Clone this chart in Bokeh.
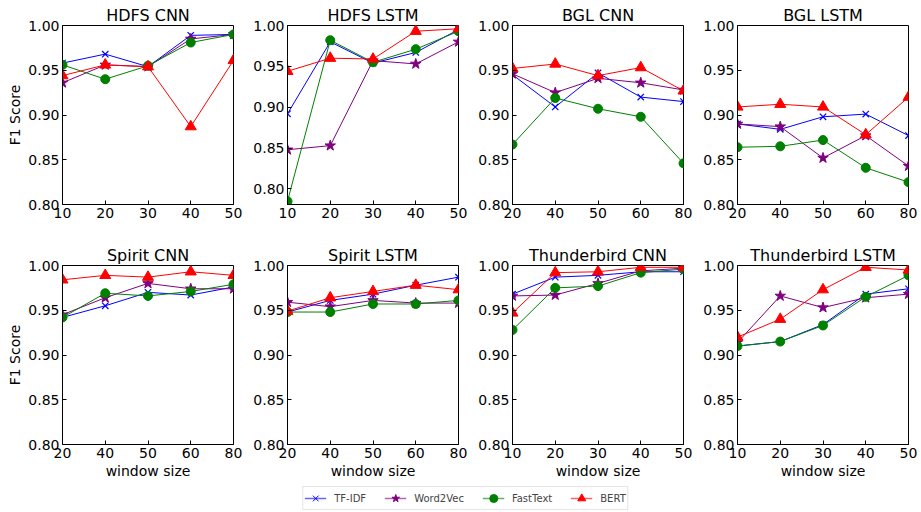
from bokeh.plotting import figure
from bokeh.layouts import column, row
from bokeh.models import Range1d, FixedTicker, Legend, LegendItem, NumeralTickFormatter
from bokeh.embed import file_html
from bokeh.resources import INLINE

FONT = "DejaVu Sans"

methods = ["TF-IDF", "Word2Vec", "FastText", "BERT"]
colors = ["#0000ff", "#800080", "#008000", "#ff0000"]
markers = ["x", "star", "circle", "triangle"]
msizes = [9, 11, 9, 11]

y_ticks = [0.80, 0.85, 0.90, 0.95, 1.00]

# ---- data ----
ws_10_50 = ["10", "20", "30", "40", "50"]
ws_20_80 = ["20", "40", "50", "60", "80"]

hdfs_cnn_tfidf = [0.958, 0.968, 0.954, 0.989, 0.990]
hdfs_cnn_w2v = [0.936, 0.956, 0.954, 0.985, 0.990]
hdfs_cnn_ft = [0.956, 0.940, 0.955, 0.981, 0.990]
hdfs_cnn_bert = [0.944, 0.956, 0.954, 0.887, 0.961]

hdfs_lstm_tfidf = [0.892, 0.980, 0.954, 0.967, 0.995]
hdfs_lstm_w2v = [0.848, 0.853, 0.957, 0.953, 0.980]
hdfs_lstm_ft = [0.785, 0.982, 0.955, 0.971, 0.993]
hdfs_lstm_bert = [0.944, 0.960, 0.959, 0.993, 0.996]

bgl_cnn_tfidf = [0.945, 0.909, 0.947, 0.920, 0.915]
bgl_cnn_w2v = [0.946, 0.925, 0.941, 0.936, 0.928]
bgl_cnn_ft = [0.867, 0.919, 0.907, 0.898, 0.846]
bgl_cnn_bert = [0.952, 0.957, 0.944, 0.953, 0.927]

bgl_lstm_tfidf = [0.890, 0.884, 0.898, 0.901, 0.877]
bgl_lstm_w2v = [0.890, 0.887, 0.852, 0.877, 0.843]
bgl_lstm_ft = [0.864, 0.865, 0.872, 0.841, 0.825]
bgl_lstm_bert = [0.909, 0.912, 0.909, 0.878, 0.920]

spirit_cnn_tfidf = [0.942, 0.955, 0.970, 0.967, 0.976]
spirit_cnn_w2v = [0.945, 0.964, 0.980, 0.974, 0.974]
spirit_cnn_ft = [0.942, 0.969, 0.966, 0.971, 0.979]
spirit_cnn_bert = [0.984, 0.989, 0.987, 0.993, 0.989]

spirit_lstm_tfidf = [0.948, 0.961, 0.968, 0.978, 0.987]
spirit_lstm_w2v = [0.959, 0.954, 0.961, 0.958, 0.958]
spirit_lstm_ft = [0.948, 0.948, 0.957, 0.957, 0.961]
spirit_lstm_bert = [0.949, 0.964, 0.971, 0.978, 0.973]

tb_cnn_tfidf = [0.968, 0.987, 0.989, 0.993, 0.993]
tb_cnn_w2v = [0.966, 0.967, 0.980, 0.994, 0.997]
tb_cnn_ft = [0.928, 0.975, 0.977, 0.992, 0.996]
tb_cnn_bert = [0.947, 0.992, 0.993, 0.998, 0.998]

tb_lstm_tfidf = [0.910, 0.915, 0.934, 0.968, 0.974]
tb_lstm_w2v = [0.914, 0.966, 0.953, 0.964, 0.968]
tb_lstm_ft = [0.910, 0.915, 0.933, 0.965, 0.989]
tb_lstm_bert = [0.920, 0.940, 0.973, 0.998, 0.995]

panels = [
    ("HDFS CNN", ws_10_50, [hdfs_cnn_tfidf, hdfs_cnn_w2v, hdfs_cnn_ft, hdfs_cnn_bert], 0.80),
    ("HDFS LSTM", ws_10_50, [hdfs_lstm_tfidf, hdfs_lstm_w2v, hdfs_lstm_ft, hdfs_lstm_bert], 0.781),
    ("BGL CNN", ws_20_80, [bgl_cnn_tfidf, bgl_cnn_w2v, bgl_cnn_ft, bgl_cnn_bert], 0.80),
    ("BGL LSTM", ws_20_80, [bgl_lstm_tfidf, bgl_lstm_w2v, bgl_lstm_ft, bgl_lstm_bert], 0.80),
    ("Spirit CNN", ws_20_80, [spirit_cnn_tfidf, spirit_cnn_w2v, spirit_cnn_ft, spirit_cnn_bert], 0.80),
    ("Spirit LSTM", ws_20_80, [spirit_lstm_tfidf, spirit_lstm_w2v, spirit_lstm_ft, spirit_lstm_bert], 0.80),
    ("Thunderbird CNN", ws_10_50, [tb_cnn_tfidf, tb_cnn_w2v, tb_cnn_ft, tb_cnn_bert], 0.80),
    ("Thunderbird LSTM", ws_10_50, [tb_lstm_tfidf, tb_lstm_w2v, tb_lstm_ft, tb_lstm_bert], 0.80),
]

FRAME_W = 171


def make_panel(idx, title, ws, series, ylo):
    r, c = divmod(idx, 4)
    left = 62 if c == 0 else 40
    right = 12 if c == 3 else 14
    top = 25 if r == 0 else 22
    bottom = 38
    frame_h = 179 if r == 0 else 180
    xs = list(range(len(ws)))
    p = figure(width=left + FRAME_W + right, height=top + frame_h + bottom,
               x_range=Range1d(0, len(ws) - 1), y_range=Range1d(ylo, 1.0),
               output_backend="svg", toolbar_location=None,
               min_border_left=left, min_border_right=right,
               min_border_top=top, min_border_bottom=bottom)
    p.title.text = title
    p.title.align = "center"
    p.title.text_font = FONT
    p.title.text_font_size = "16px"
    p.title.text_font_style = "normal"
    p.title.text_color = "black"
    p.title.standoff = 2
    p.xgrid.visible = False
    p.ygrid.visible = False
    p.outline_line_color = "black"
    p.outline_line_width = 1
    p.outline_line_alpha = 1
    p.background_fill_color = "white"
    p.border_fill_color = "white"

    p.xaxis.ticker = FixedTicker(ticks=xs)
    p.xaxis.major_label_overrides = {i: w for i, w in zip(xs, ws)}
    p.yaxis.ticker = FixedTicker(ticks=y_ticks)
    p.yaxis.formatter = NumeralTickFormatter(format="0.00")
    for ax in (p.xaxis[0], p.yaxis[0]):
        ax.major_tick_in = 4
        ax.major_tick_out = 0
        ax.minor_tick_line_color = None
        ax.axis_line_color = "black"
        ax.major_tick_line_color = "black"
        ax.major_label_text_font = FONT
        ax.major_label_text_font_size = "14px"
        ax.major_label_text_color = "black"
        ax.major_label_standoff = 3
        ax.axis_label_text_font = FONT
        ax.axis_label_text_font_size = "14px"
        ax.axis_label_text_font_style = "normal"
        ax.axis_label_text_color = "black"
        ax.axis_label_standoff = 2
    if c == 0:
        p.yaxis.axis_label = "F1 Score"
    if r == 1:
        p.xaxis.axis_label = "window size"

    for vals, col, mk, ms in zip(series, colors, markers, msizes):
        p.line(xs, vals, line_color=col, line_width=1)
        p.scatter(xs, vals, marker=mk, size=ms, fill_color=col, line_color=col,
                  line_width=1.2 if mk == "x" else 1)
    return p


figs = [make_panel(i, *pnl) for i, pnl in enumerate(panels)]

# legend figure
lg = figure(width=920, height=30, x_range=Range1d(0, 1), y_range=Range1d(0, 1),
            output_backend="svg", toolbar_location=None,
            min_border=0, min_border_left=10)
lg.axis.visible = False
lg.xgrid.visible = False
lg.ygrid.visible = False
lg.outline_line_color = None
items = []
for name, col, mk, ms in zip(methods, colors, markers, msizes):
    lr = lg.line([-10, -9], [-10, -10], line_color=col, line_width=1.5, line_alpha=0.6)
    sr = lg.scatter([-10], [-10], marker=mk, size=ms, fill_color=col, line_color=col)
    items.append(LegendItem(label=name, renderers=[lr, sr]))
legend = Legend(items=items, orientation="horizontal", location="bottom_center",
                label_text_font=FONT, label_text_font_size="10px",
                glyph_width=22, glyph_height=20, label_standoff=8, spacing=18,
                padding=1, margin=2, border_line_color="#cccccc",
                border_line_width=1, background_fill_alpha=1)
lg.add_layout(legend, "center")

layout = column(row(*figs[:4], spacing=0), row(*figs[4:], spacing=0), lg, spacing=0)

with open("out.html", "w") as f:
    f.write(file_html(layout, INLINE))
